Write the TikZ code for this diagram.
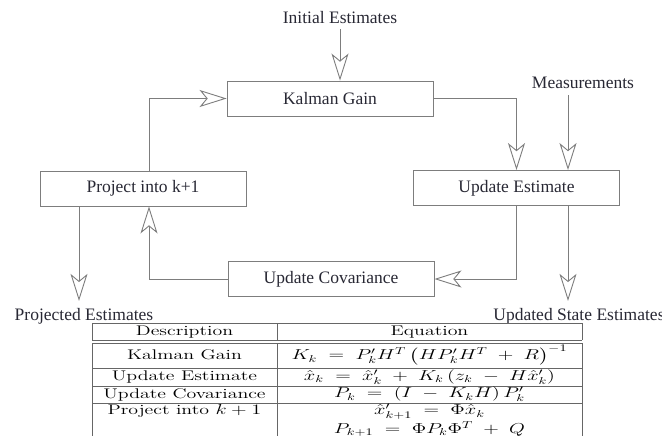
\documentclass[tikz,border=0pt]{standalone}
\usepackage{amsmath}
\usepackage{fontspec}
\newfontfamily\diafont{Liberation Serif}
\usepackage{tikz}
\usetikzlibrary{arrows.meta}
\definecolor{linegray}{RGB}{125,125,125}
\definecolor{textdark}{RGB}{40,40,52}
\newcommand{\wide}[1]{\scalebox{1.42}[1]{#1}}

\begin{document}
\begin{tikzpicture}[x=1pt,y=-1pt,
  block/.style={draw=linegray, line width=0.9pt, minimum width=206pt, minimum height=35pt,
    inner sep=0pt, font=\diafont\fontsize{17.5}{20}\selectfont, text=textdark},
  label/.style={font=\diafont\fontsize{17.5}{20}\selectfont, text=textdark, inner sep=1pt},
  flow/.style={draw=linegray, line width=0.9pt,
    -{Stealth[open, fill=white, length=27pt, width=17pt, inset=7pt]}},
  rule/.style={draw=black!60, line width=0.8pt},
  cell/.style={font=\fontsize{14}{16}\selectfont, inner sep=0pt}]
  \useasboundingbox (0,0) rectangle (662,436);
  \clip (0,0) rectangle (662,436);

  % filter loop
  \node[block] (gain) at (330,98.5) {Kalman Gain};
  \node[block] (proj) at (143,188.5) {Project into k+1};
  \node[block] (est) at (516.5,188) {Update Estimate};
  \node[block] (cov) at (331,279) {Update Covariance};

  \node[label] (init) at (340,18) {Initial Estimates};
  \node[label] (meas) at (583,83) {Measurements};
  \node[label] (projout) at (84,316) {Projected Estimates};
  \node[label] (estout) at (579,316) {Updated State Estimates};

  \coordinate (mx) at (568,0);
  \coordinate (px) at (79,0);
  \coordinate (lx) at (149,0);

  \draw[flow, shorten <=4pt] (init.south) -- (init.south |- gain.north);
  \draw[flow] (proj.north -| lx) |- (gain.west);
  \draw[flow] (gain.east) -| (est.north);
  \draw[flow, shorten <=5pt] (meas.south -| mx) -- (est.north -| mx);
  \draw[flow, shorten >=6pt] (est.south -| mx) -- (estout.north -| mx);
  \draw[flow] (est.south) |- (cov.east);
  \draw[flow] (cov.west) -| (proj.south -| lx);
  \draw[flow, shorten >=6pt] (proj.south -| px) -- (projout.north -| px);

  % table
  \foreach \y in {323,340,343,368,386,403}
    \draw[rule] (92,\y) -- (582,\y);
  \foreach \x in {92,277,582} {
    \draw[rule] (\x,323) -- (\x,340);
    \draw[rule] (\x,343) -- (\x,436);
  }

  \node[cell] (hdesc) at (184.5,332) {\wide{Description}};
  \node[cell] (heq) at (429.5,332) {\wide{Equation}};
  \node[cell] (dgain) at (184.5,355) {\wide{Kalman Gain}};
  \node[cell] (egain) at (429.5,355)
    {\wide{$K_k \;=\; P'_k H^T \left(H P'_k H^T \;+\; R\right)^{-1}$}};
  \node[cell] (dest) at (184.5,377) {\wide{Update Estimate}};
  \node[cell] (eest) at (429.5,377)
    {\wide{$\hat{x}_k \;=\; \hat{x}'_k \;+\; K_k\,(z_k \;-\; H\hat{x}'_k)$}};
  \node[cell] (dcov) at (184.5,394.5) {\wide{Update Covariance}};
  \node[cell] (ecov) at (429.5,394.5)
    {\wide{$P_k \;=\; (I \;-\; K_k H)\,P'_k$}};
  \node[cell] (dproj) at (184.5,411) {\wide{Project into $k+1$}};
  \node[cell] (eproj) at (429.5,412) {\wide{$\hat{x}'_{k+1} \;=\; \Phi\hat{x}_k$}};
  \node[cell] (eprojb) at (429.5,429) {\wide{$P_{k+1} \;=\; \Phi P_k\Phi^T \;+\; Q$}};
\end{tikzpicture}
\end{document}
